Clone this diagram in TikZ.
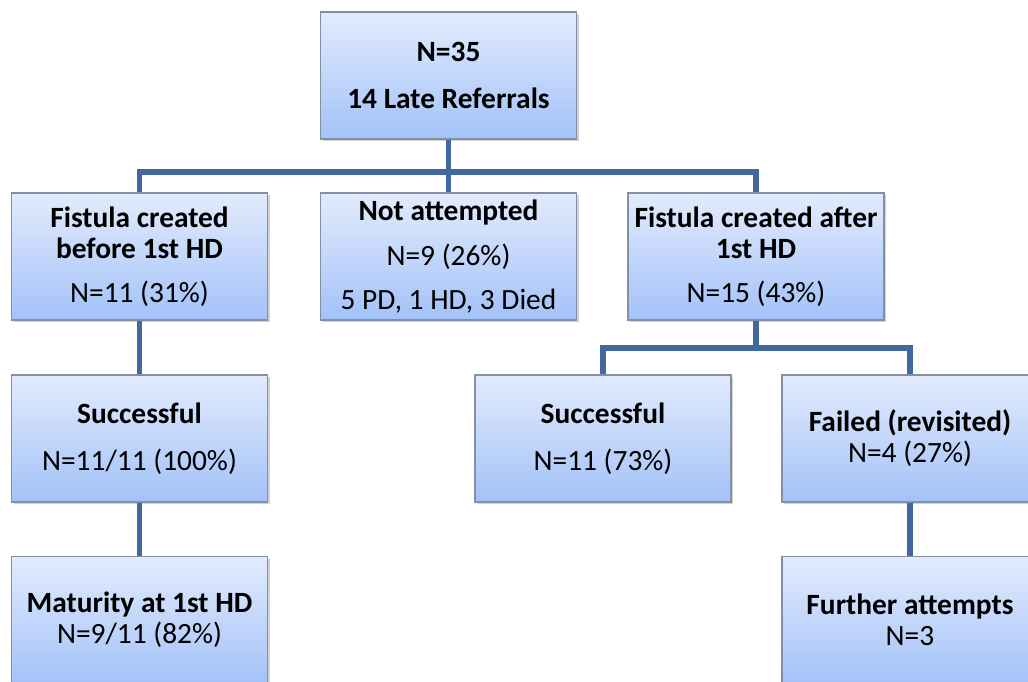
\documentclass[tikz,border=0pt]{standalone}
\usepackage{fontspec}
\setmainfont{Carlito}
\usetikzlibrary{positioning, shadows}

\definecolor{boxtop}{HTML}{E2EBFD}
\definecolor{boxbot}{HTML}{A3C2F8}
\definecolor{boxline}{HTML}{8390A3}
\definecolor{linkblue}{HTML}{4169A0}

\begin{document}
\begin{tikzpicture}[
  x=0.5pt, y=-0.5pt,
  font=\fontsize{14.7}{15.5}\selectfont,
  box/.style ={draw=boxline, line width=0.6pt, align=center, inner sep=2pt,
               minimum width=128pt, minimum height=63.5pt,
               top color=boxtop, bottom color=boxbot,
               drop shadow={opacity=0.35, shadow xshift=1.2pt, shadow yshift=-1.2pt}},
  link/.style={draw=linkblue, line width=2.6pt},
]
\clip (0,0) rectangle (1028,681);

% ---- top ----
\node[box] (total) at (448.5,75.5) {\textbf{N=35}\\[8pt]\textbf{14 Late Referrals}};

% ---- second row ----
\node[box] (before) at (139.5,256.5) {\textbf{Fistula created}\\\textbf{before 1st HD}\\[6.5pt]N=11 (31\%)};
\node[box] (notatt) at (448.5,256.5) {\textbf{Not attempted}\\[7pt]N=9 (26\%)\\[6.5pt]5 PD, 1 HD, 3 Died};
\node[box] (after)  at (756,256.5)   {\textbf{Fistula created after}\\\textbf{1st HD}\\[6.5pt]N=15 (43\%)};

% ---- third row ----
\node[box] (succA)  at (139.5,438.5) {\textbf{Successful}\\[8pt]N=11/11 (100\%)};
\node[box] (succB)  at (603,438.5)   {\textbf{Successful}\\[8pt]N=11 (73\%)};
\node[box] (failed) at (910,438.5)   {\textbf{Failed (revisited)}\\N=4 (27\%)};

% ---- bottom row ----
\node[box] (mature)  at (139.5,620) {\textbf{Maturity at 1st HD}\\N=9/11 (82\%)};
\node[box] (further) at (910,620)   {\textbf{Further attempts}\\N=3};

% ---- connectors ----
\coordinate (split) at (448.5,172);
\draw[link] (total.south) -- (split);
\draw[link] (split) -| (before.north);
\draw[link] (split) -- (notatt.north);
\draw[link] (split) -| (after.north);

\draw[link] (before.south) -- (succA.north);
\draw[link] (succA.south) -- (mature.north);

\coordinate (split2) at (756,348);
\draw[link] (after.south) -- (split2);
\draw[link] (split2) -| (succB.north);
\draw[link] (split2) -| (failed.north);
\draw[link] (failed.south) -- (further.north);

\end{tikzpicture}
\end{document}
